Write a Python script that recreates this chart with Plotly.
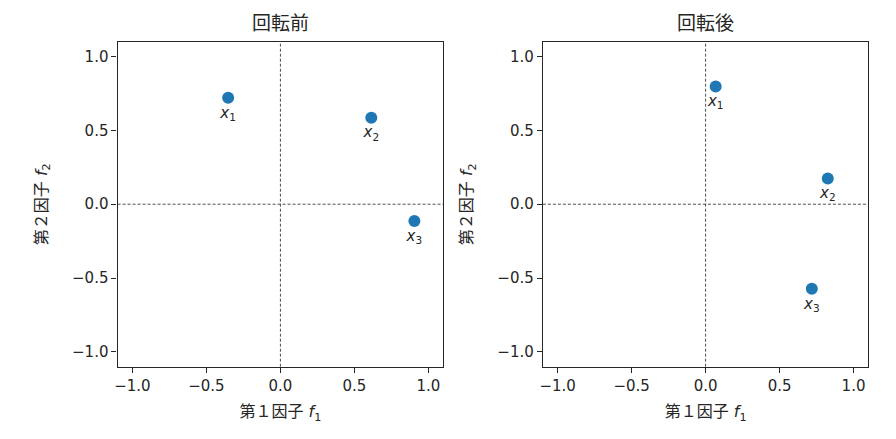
"""
因子負荷量の回転前後を並べて描く散布図。
"""
import plotly.graph_objects as go
from plotly.subplots import make_subplots

# ══════════════════════════════════════════════════════════
# データ
# ══════════════════════════════════════════════════════════

labels = ["<i>x</i><sub>1</sub>", "<i>x</i><sub>2</sub>", "<i>x</i><sub>3</sub>"]

before_f1 = [-0.353, 0.614, 0.905]
before_f2 = [0.720, 0.586, -0.114]

after_f1 = [0.068, 0.826, 0.718]
after_f2 = [0.797, 0.174, -0.573]

titles = ["回転前", "回転後"]
tick_vals = [-1.0, -0.5, 0.0, 0.5, 1.0]
tick_text = ["\u22121.0", "\u22120.5", "0.0", "0.5", "1.0"]
axis_range = [-1.1, 1.1]

FONT = "DejaVu Sans, Noto Sans CJK JP, sans-serif"
BLUE = "#1f77b4"
INK = "#262626"


def _build_rotation_chart() -> go.Figure:
    """回転前 / 回転後 の二枚組"""
    fig = make_subplots(rows=1, cols=2, horizontal_spacing=0.1)

    for col, (xs, ys) in enumerate([(before_f1, before_f2), (after_f1, after_f2)], start=1):
        fig.add_trace(
            go.Scatter(
                x=xs, y=ys, mode="markers+text",
                text=labels, textposition="bottom center",
                textfont=dict(size=15, color=INK, family=FONT),
                marker=dict(size=12, color=BLUE),
                cliponaxis=False, showlegend=False,
            ),
            row=1, col=col,
        )
        # 原点を通る補助線
        fig.add_hline(y=0, line=dict(color="black", width=0.7, dash="3px,2px"), row=1, col=col)
        fig.add_vline(x=0, line=dict(color="black", width=0.7, dash="3px,2px"), row=1, col=col)

    domains_x = [[0.1283, 0.4930], [0.6046, 0.9690]]
    for col in (1, 2):
        fig.update_xaxes(
            domain=domains_x[col - 1], range=axis_range,
            tickvals=tick_vals, ticktext=tick_text,
            ticks="outside", ticklen=5, tickwidth=1, tickcolor=INK,
            showline=True, mirror=True, linecolor=INK, linewidth=1.2,
            showgrid=False, zeroline=False,
            tickfont=dict(size=15, color=INK),
            title=dict(text="第１因子 <i>f</i><sub>1</sub>", font=dict(size=16, color=INK), standoff=12),
            row=1, col=col,
        )
        fig.update_yaxes(
            domain=[0.1647, 0.905], range=axis_range,
            tickvals=tick_vals, ticktext=tick_text,
            ticks="outside", ticklen=5, tickwidth=1, tickcolor=INK,
            showline=True, mirror=True, linecolor=INK, linewidth=1.2,
            showgrid=False, zeroline=False,
            tickfont=dict(size=15, color=INK),
            title=dict(text="第２因子 <i>f</i><sub>2</sub>", font=dict(size=16, color=INK), standoff=20),
            row=1, col=col,
        )

    # サブプロットのタイトル
    for col, t in enumerate(titles):
        dx = domains_x[col]
        fig.add_annotation(
            text=t, xref="paper", yref="paper",
            x=(dx[0] + dx[1]) / 2, y=0.905, yshift=6,
            xanchor="center", yanchor="bottom", showarrow=False,
            font=dict(size=19, color=INK, family=FONT),
        )

    fig.update_layout(
        width=896, height=439,
        margin=dict(l=0, r=0, t=0, b=0),
        plot_bgcolor="white", paper_bgcolor="white",
        font=dict(family=FONT, color=INK),
    )
    return fig


fig = _build_rotation_chart()
# ページ既定の余白を消して図を左上に揃える
fig.write_html(
    "out.html",
    config={"displayModeBar": False},
    post_script="document.body.style.margin='0';",
)
